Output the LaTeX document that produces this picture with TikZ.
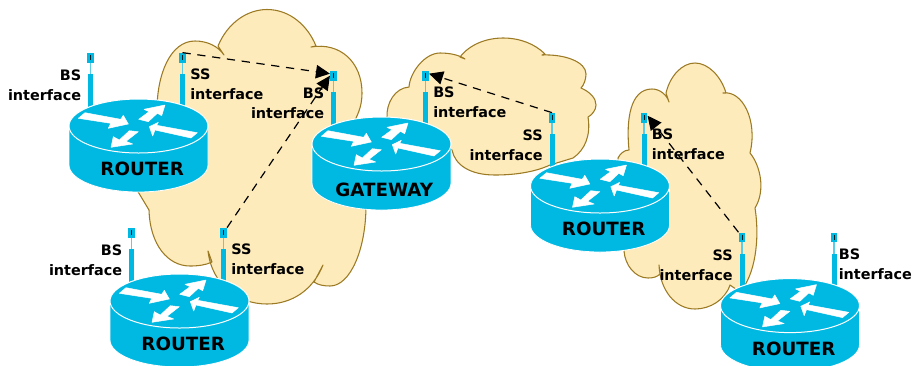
\documentclass[tikz,border=0pt]{standalone}
\usepackage{fontspec}
\setmainfont{DejaVu Sans}
\usetikzlibrary{arrows.meta}
\definecolor{rblue}{HTML}{00B9E3}
\definecolor{rpale}{HTML}{5CCDE6}
\definecolor{cfill}{HTML}{FEEBBB}
\definecolor{cline}{HTML}{9C7A24}
\tikzset{
  cloudshape/.style={fill=cfill,draw=cline,line width=0.8pt,line join=round},
  routerbody/.style={fill=rblue,draw=white,line width=0.6pt},
  routertop/.style={fill=rblue,draw=white,line width=0.75pt},
  routerarrow/.style={fill=white,draw=white,line width=0.35pt,line join=round},
  anthead/.style={fill=rblue,draw=none,inner sep=0pt,minimum width=4.9pt,minimum height=7.2pt},
  antbar/.style={fill=rblue,draw=none},
  antwire/.style={draw=rpale,line width=1pt},
  anttick/.style={draw=black!85!rblue,line width=0.8pt},
  ifacetext/.style={font=\bfseries\fontsize{10.8pt}{13pt}\selectfont,inner sep=0pt,anchor=base,text=black},
  routertext/.style={font=\bfseries\fontsize{13.7pt}{16pt}\selectfont,inner sep=0pt,anchor=base,text=black},
  linkline/.style={draw=black,line width=0.9pt,dash pattern=on 6.2pt off 5pt,-{Triangle[length=10.5pt,width=10pt,sep=0pt]}}
}
% #1 name, #2 cx, #3 top, #4 label, #5 label baseline, #6 label dx
\newcommand{\routerat}[6]{%
\begin{scope}[shift={(#2,#3)}]
  \foreach \ax/\nm in {-48/a,44/b}{
    \fill[antbar] (\ax-2.5,-25) rectangle (\ax+2.5,8);
    \draw[antwire] (\ax,-37) -- (\ax,-25);
    \node[anthead] (#1\nm) at (\ax,-41.3) {};
    \draw[anttick] (\ax+0.3,-44) -- (\ax+0.3,-39);
  }
  \draw[routerbody] (-69.5,27) -- (-69.5,66) arc[start angle=180,end angle=360,x radius=69.5,y radius=-27] -- (69.5,27) -- cycle;
  \draw[routertop] (0,27) ellipse[x radius=69.5,y radius=27];
  \path[routerarrow] (-60.2,19.3) -- (-53.5,13.7) -- (-17.8,20.3) -- (-15.2,16.3) -- (-10.2,25) -- (-30.2,29.3) -- (-27.8,24.3) -- cycle;
  \path[routerarrow] (26.5,6) -- (5.5,10.3) -- (10.5,12.7) -- (0.2,20.3) -- (9.8,22.7) -- (18.8,14.3) -- (23.2,16.7) -- cycle;
  \path[routerarrow] (10.8,27.7) -- (19.8,23.3) -- (18.2,26.3) -- (58.8,33.7) -- (52.5,39) -- (16.5,31) -- (14.2,37) -- cycle;
  \path[routerarrow] (-27.5,48.3) -- (-5.8,45) -- (-12.5,42.3) -- (-0.2,32.7) -- (-9.2,31.7) -- (-19.2,41) -- (-25.2,37.7) -- cycle;
  \node[routertext] (#1t) at (#6,#5) {#4};
\end{scope}}
% #1 name, #2 cx, #3 top, #4 left word, #5 right word, #6 right text x
\newcommand{\ifacelabels}[6]{%
\begin{scope}[shift={(#2,#3)}]
  \node[ifacetext,anchor=base east] (#1l) at (-57,-18.3) {#4};
  \node[ifacetext,anchor=base east] (#1m) at (-57,1.7) {interface};
  \node[ifacetext,anchor=base west] (#1r) at (#6,-19.7) {#5};
  \node[ifacetext,anchor=base west] (#1s) at (#6,0.3) {interface};
\end{scope}}
\begin{document}
\begin{tikzpicture}[x=0.75pt,y=-0.75pt]
\useasboundingbox (0,0) rectangle (912,365);
% cloud 1
\path[cloudshape] (157,110) .. controls (157,75) and (170,41) .. (195,41)
  .. controls (207,41) and (218,46) .. (224,55)
  -- (218,46) .. controls (228,22) and (248,9.5) .. (267,9.5)
  .. controls (290,9.5) and (308,26) .. (316,46)
  -- (311,47) .. controls (340,42) and (362,62) .. (362,93)
  .. controls (362,102) and (360,110) .. (356,118)
  -- (366,205) .. controls (366,250) and (350,286) .. (330,286)
  .. controls (324,286) and (318,285) .. (314,282)
  -- (323,265) .. controls (313,290) and (292,304) .. (267,304)
  .. controls (238,304) and (212,285) .. (208,251)
  -- (212,262) .. controls (206,265) and (198,266) .. (190,266)
  .. controls (168,266) and (150,245) .. (149,210)
  -- (137,190) -- cycle;
% cloud 2
\path[cloudshape] (387,118) .. controls (386,103) and (395,88) .. (409,87)
  .. controls (410,72) and (425,53) .. (440,53)
  .. controls (450,53) and (459,55) .. (465,59)
  -- (460,57) .. controls (470,44) and (487,38) .. (503,38)
  .. controls (520,38) and (535,44) .. (545,54)
  -- (542,55) .. controls (565,54) and (586,62) .. (586,74)
  .. controls (586,79) and (584,85) .. (581,88)
  .. controls (590,92) and (596,98) .. (596,105)
  .. controls (596,110) and (592,115) .. (588,117)
  .. controls (591,135) and (585,150) .. (573,158)
  -- (550,165) .. controls (535,172) and (515,175) .. (495,175)
  .. controls (470,175) and (455,165) .. (452,150)
  -- cycle;
% cloud 3
\path[cloudshape] (618,158) .. controls (620,154) and (624,150) .. (629,150)
  .. controls (626,120) and (630,89) .. (652,89)
  .. controls (660,89) and (667,95) .. (669,102)
  -- (666,93) .. controls (670,76) and (682,63) .. (695,63)
  .. controls (708,63) and (721,76) .. (726,93)
  -- (723,93) .. controls (742,90) and (758,120) .. (750,153)
  .. controls (760,165) and (766,190) .. (755,208)
  .. controls (760,240) and (755,275) .. (740,292)
  -- (730,285) .. controls (725,300) and (710,309) .. (695,309)
  .. controls (675,309) and (660,290) .. (659,265)
  -- (660,274) .. controls (657,277) and (653,278) .. (648,278)
  .. controls (635,278) and (625,265) .. (624,251)
  -- cycle;
\routerat{ra}{138.5}{99}{ROUTER}{76.5}{3.7}
\routerat{gw}{381.5}{117}{GATEWAY}{79.2}{2.7}
\routerat{rc}{600}{159}{ROUTER}{76.5}{3.7}
\routerat{rd}{179.5}{274}{ROUTER}{76.5}{3.7}
\routerat{re}{790}{278.6}{ROUTER}{76.5}{3.7}
\draw[linkline] (rab.north) -- (gwa.150);
\draw[linkline] (rdb.north east) -- (gwa.west);
\draw[linkline] (rca.north) -- (gwb.30);
\draw[linkline] (rea.north west) -- (rcb.30);
\ifacelabels{la}{138.5}{99}{BS}{SS}{51.5}
\ifacelabels{lg}{381.5}{117}{BS}{BS}{51.5}
\ifacelabels{lc}{600}{159}{SS}{BS}{51.5}
\ifacelabels{ld}{179.5}{274}{BS}{SS}{51.5}
\ifacelabels{le}{790}{279}{SS}{BS}{48.5}
\end{tikzpicture}
\end{document}
